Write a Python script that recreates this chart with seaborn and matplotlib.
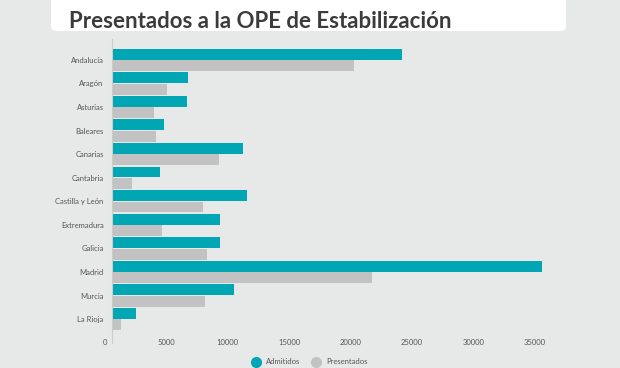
import numpy as np
import pandas as pd
import matplotlib
matplotlib.use("Agg")
from matplotlib import pyplot as plt
from matplotlib.patches import FancyBboxPatch
from matplotlib.lines import Line2D
from matplotlib.transforms import ScaledTranslation
import seaborn as sns

regiones = ["Andalucía", "Aragón", "Asturias", "Baleares", "Canarias", "Cantabria",
            "Castilla y León", "Extremadura", "Galicia", "Madrid", "Murcia", "La Rioja"]
admitidos = [23600, 6200, 6150, 4200, 10700, 3950, 11000, 8800, 8800, 35050, 9900, 1950]
presentados = [19700, 4450, 3400, 3600, 8700, 1650, 7400, 4050, 7750, 21200, 7600, 770]
series = ["Admitidos", "Presentados"]
colores = ["#00a6b4", "#c2c2c2"]

df = pd.DataFrame({"Región": regiones * 2,
                   "Valor": admitidos + presentados,
                   "Serie": [series[0]] * len(regiones) + [series[1]] * len(regiones)})

sns.set_theme(style="white")
plt.rcParams["font.family"] = ["Lato", "DejaVu Sans"]
bg = "#e6e9e8"

fig = plt.figure(figsize=(6.2, 3.68), dpi=100, facecolor=bg)
ax = fig.add_axes([112 / 620, 1 - 331 / 368, (560 - 112) / 620, (331 - 48) / 368])
ax.set_facecolor(bg)

sns.barplot(data=df, y="Región", x="Valor", hue="Serie", palette=colores,
            orient="h", width=0.97, gap=0.05, saturation=1, linewidth=0,
            legend=False, ax=ax)

ax.set_xlim(0, 36500)
ax.set_xticks(np.arange(0, 35001, 5000))
ax.set_xticklabels([str(v) for v in range(0, 35001, 5000)])
ax.set_xlabel("")
ax.set_ylabel("")
ax.tick_params(axis="both", length=0, labelsize=5.5, colors="#555555")
ax.tick_params(axis="y", pad=6)
ax.tick_params(axis="x", pad=6)
shift = ScaledTranslation(-7 / 100, 0, fig.dpi_scale_trans)
for lab in ax.get_xticklabels():
    lab.set_transform(lab.get_transform() + shift)
for s in ["top", "right", "bottom"]:
    ax.spines[s].set_visible(False)
ax.spines["left"].set_color("#cccccc")
ax.spines["left"].set_linewidth(0.8)
ax.spines["left"].set_bounds(12, -0.9)

# title box
box = FancyBboxPatch((51 / 620, 1 - 31 / 368), (566 - 51) / 620, 40 / 368,
                     boxstyle="round,pad=0,rounding_size=0.012",
                     transform=fig.transFigure, facecolor="white", edgecolor="none")
fig.patches.append(box)
fig.text(69 / 620, 1 - 28 / 368, "Presentados a la OPE de Estabilización",
         fontsize=16, fontweight="bold", color="#3b3b3b", ha="left", va="baseline")

handles = [Line2D([0], [0], marker="o", color="none", markerfacecolor=c,
                  markeredgecolor="none", markersize=8) for c in colores]
fig.legend(handles, series, loc="center", bbox_to_anchor=(308 / 620, 1 - 362 / 368),
           ncol=2, frameon=False, fontsize=5.5, handletextpad=0.4, columnspacing=1.0,
           labelcolor="#555555")

fig.savefig("out.png", dpi=100, facecolor=bg)
